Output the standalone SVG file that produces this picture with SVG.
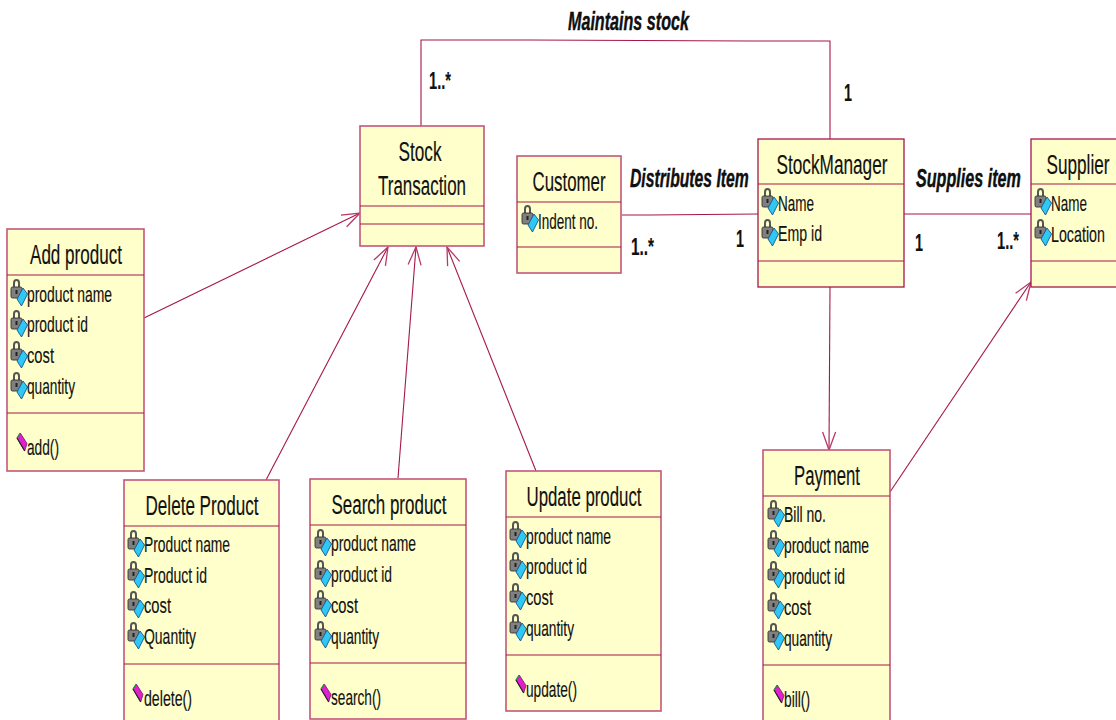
<svg xmlns="http://www.w3.org/2000/svg" width="1116" height="720" viewBox="0 0 1116 720">
<style>
.box{fill:#ffffcc;stroke:#a5174a;stroke-width:1.3}
.soft{stroke:#c4577c;stroke-width:1.6}
.sep{stroke:#a5174a;stroke-width:1.2;fill:none}
.c{stroke:#a5174a;stroke-width:1.1;fill:none}
.a{marker-end:url(#open)}
text{font-family:"Liberation Sans",Arial,sans-serif;fill:#111;stroke:#111;stroke-width:.15}
.t{font-size:27px;text-anchor:middle}
.m{font-size:22px}
.l{font-size:26px;font-style:italic;font-weight:bold;stroke:#000;stroke-width:.4}
.n{font-size:23px;font-weight:bold}
</style>
<defs>
<marker id="open" markerUnits="userSpaceOnUse" markerWidth="24" markerHeight="24" refX="21" refY="12" orient="auto"><path d="M3 5.500L21 12L3 18.500" fill="none" stroke="#b8386a" stroke-width="1.300"/></marker>
<g id="attr">
<path d="M3 9V4Q3 0 6.500 0Q10 0 10 4V9H8V4Q8 2 6.500 2Q5 2 5 4V9Z" fill="#555"/>
<rect x="1" y="8" width="11" height="11" rx="1.500" fill="#808080" stroke="#333" stroke-width=".9"/>
<rect x="5.500" y="11" width="2" height="4" fill="#222"/>
<path d="M13 9L17.500 15L11.500 27L7 20Z" fill="#2fc8f5" stroke="#14558a" stroke-width=".9"/>
</g>
<g id="op">
<path d="M3.300 0L10 10.500L7.700 18L0 5Z" fill="#e020d0" stroke="#5a1050" stroke-width=".7"/>
<path d="M0 5L7.700 18" stroke="#222" stroke-width="1.100"/>
<path d="M3.300 0L0 5" stroke="#1a9a3c" stroke-width="1.200"/>
</g>
</defs>

<g id="connectors">
<path class="c" d="M421 126V40H530L750 41H830V139"/>
<path class="c" d="M622 215L650 215L758 214"/>
<path class="c" d="M904 214H1031"/>
<path class="c a" d="M144 318L360 213"/>
<path class="c a" d="M266 480L388 247"/>
<path class="c a" d="M398 478L416 247"/>
<path class="c a" d="M536 471L447 247"/>
<path class="c a" d="M830 287L829 450"/>
<path class="c a" d="M890 492L1031 282"/>
</g>

<g id="assoc-labels">
<text class="l" transform="translate(568 30) scale(.62 1)">Maintains stock</text>
<text class="l" transform="translate(630 187) scale(.605 1)">Distributes Item</text>
<text class="l" transform="translate(916 187) scale(.621 1)">Supplies item</text>
<text class="n" x="429" y="89" textLength="22" lengthAdjust="spacingAndGlyphs">1..*</text>
<text class="n" x="844" y="101" textLength="8" lengthAdjust="spacingAndGlyphs">1</text>
<text class="n" x="631" y="255" textLength="23" lengthAdjust="spacingAndGlyphs">1..*</text>
<text class="n" x="736" y="247" textLength="8" lengthAdjust="spacingAndGlyphs">1</text>
<text class="n" x="915" y="251" textLength="8" lengthAdjust="spacingAndGlyphs">1</text>
<text class="n" x="997" y="249" textLength="22" lengthAdjust="spacingAndGlyphs">1..*</text>
</g>

<g id="stock-transaction">
<rect class="box soft" x="360" y="126" width="124" height="120"/>
<path class="sep soft" d="M360 206H484M360 224H484"/>
<text class="t" x="420" y="161" textLength="43" lengthAdjust="spacingAndGlyphs">Stock</text>
<text class="t" x="422" y="195" textLength="88" lengthAdjust="spacingAndGlyphs">Transaction</text>
</g>

<g id="customer">
<rect class="box soft" x="517" y="156" width="104" height="117"/>
<path class="sep soft" d="M517 202H621M517 247H621"/>
<text class="t" transform="translate(569 191) scale(.624 1)">Customer</text>
<use href="#attr" x="521" y="205"/>
<text class="m" x="538" y="229" textLength="60" lengthAdjust="spacingAndGlyphs">Indent no.</text>
</g>

<g id="stock-manager">
<rect class="box" x="758" y="139" width="146" height="148"/>
<path class="sep" d="M758 184H904M758 261H904"/>
<text class="t" transform="translate(832 174) scale(.638 1)">StockManager</text>
<use href="#attr" x="761" y="188"/>
<text class="m" x="778" y="211" textLength="36" lengthAdjust="spacingAndGlyphs">Name</text>
<use href="#attr" x="761" y="219"/>
<text class="m" x="778" y="241" textLength="44" lengthAdjust="spacingAndGlyphs">Emp id</text>
</g>

<g id="supplier">
<rect class="box" x="1031" y="139" width="100" height="148"/>
<path class="sep" d="M1031 184H1116M1031 261H1116"/>
<text class="t" transform="translate(1078 174) scale(.636 1)">Supplier</text>
<use href="#attr" x="1034" y="188"/>
<text class="m" transform="translate(1051 211) scale(.613 1)">Name</text>
<use href="#attr" x="1034" y="219"/>
<text class="m" transform="translate(1051 242) scale(.649 1)">Location</text>
</g>

<g id="add-product">
<rect class="box soft" x="7" y="229" width="137" height="242"/>
<path class="sep" d="M7 275H144M7 413H144"/>
<text class="t" x="76" y="264" textLength="92" lengthAdjust="spacingAndGlyphs">Add product</text>
<use href="#attr" x="10" y="279"/>
<text class="m" x="27" y="302" textLength="85" lengthAdjust="spacingAndGlyphs">product name</text>
<use href="#attr" x="10" y="310"/>
<text class="m" x="27" y="332" textLength="61" lengthAdjust="spacingAndGlyphs">product id</text>
<use href="#attr" x="10" y="341"/>
<text class="m" x="27" y="363" textLength="27" lengthAdjust="spacingAndGlyphs">cost</text>
<use href="#attr" x="10" y="372"/>
<text class="m" x="27" y="394" textLength="48" lengthAdjust="spacingAndGlyphs">quantity</text>
<use href="#op" x="17" y="433"/>
<text class="m" x="27" y="455" textLength="32" lengthAdjust="spacingAndGlyphs">add()</text>
</g>

<g id="delete-product">
<rect class="box soft" x="124" y="480" width="155" height="250"/>
<path class="sep" d="M124 526H279M124 664H279"/>
<text class="t" x="202" y="515" textLength="113" lengthAdjust="spacingAndGlyphs">Delete Product</text>
<use href="#attr" x="127" y="530"/>
<text class="m" x="144" y="552" textLength="86" lengthAdjust="spacingAndGlyphs">Product name</text>
<use href="#attr" x="127" y="561"/>
<text class="m" x="144" y="583" textLength="63" lengthAdjust="spacingAndGlyphs">Product id</text>
<use href="#attr" x="127" y="591"/>
<text class="m" x="144" y="613" textLength="27" lengthAdjust="spacingAndGlyphs">cost</text>
<use href="#attr" x="127" y="622"/>
<text class="m" x="144" y="644" textLength="52" lengthAdjust="spacingAndGlyphs">Quantity</text>
<use href="#op" x="133" y="684"/>
<text class="m" x="144" y="706" textLength="48" lengthAdjust="spacingAndGlyphs">delete()</text>
</g>

<g id="search-product">
<rect class="box soft" x="310" y="479" width="156" height="240"/>
<path class="sep" d="M310 525H466M310 663H466"/>
<text class="t" x="389" y="514" textLength="115" lengthAdjust="spacingAndGlyphs">Search product</text>
<use href="#attr" x="314" y="529"/>
<text class="m" x="331" y="551" textLength="85" lengthAdjust="spacingAndGlyphs">product name</text>
<use href="#attr" x="314" y="560"/>
<text class="m" x="331" y="582" textLength="61" lengthAdjust="spacingAndGlyphs">product id</text>
<use href="#attr" x="314" y="590"/>
<text class="m" x="331" y="613" textLength="27" lengthAdjust="spacingAndGlyphs">cost</text>
<use href="#attr" x="314" y="621"/>
<text class="m" x="331" y="644" textLength="48" lengthAdjust="spacingAndGlyphs">quantity</text>
<use href="#op" x="321" y="684"/>
<text class="m" x="331" y="705" textLength="50" lengthAdjust="spacingAndGlyphs">search()</text>
</g>

<g id="update-product">
<rect class="box soft" x="506" y="471" width="155" height="240"/>
<path class="sep" d="M506 517H661M506 655H661"/>
<text class="t" x="584" y="506" textLength="115" lengthAdjust="spacingAndGlyphs">Update product</text>
<use href="#attr" x="509" y="521"/>
<text class="m" x="526" y="544" textLength="85" lengthAdjust="spacingAndGlyphs">product name</text>
<use href="#attr" x="509" y="552"/>
<text class="m" x="526" y="574" textLength="61" lengthAdjust="spacingAndGlyphs">product id</text>
<use href="#attr" x="509" y="583"/>
<text class="m" x="526" y="605" textLength="27" lengthAdjust="spacingAndGlyphs">cost</text>
<use href="#attr" x="509" y="614"/>
<text class="m" x="526" y="636" textLength="48" lengthAdjust="spacingAndGlyphs">quantity</text>
<use href="#op" x="516" y="675"/>
<text class="m" x="526" y="697" textLength="51" lengthAdjust="spacingAndGlyphs">update()</text>
</g>

<g id="payment">
<rect class="box soft" x="763" y="450" width="127" height="280"/>
<path class="sep" d="M763 496H890M763 665H890"/>
<text class="t" x="827" y="485" textLength="66" lengthAdjust="spacingAndGlyphs">Payment</text>
<use href="#attr" x="767" y="500"/>
<text class="m" x="784" y="522" textLength="42" lengthAdjust="spacingAndGlyphs">Bill no.</text>
<use href="#attr" x="767" y="530"/>
<text class="m" x="784" y="553" textLength="85" lengthAdjust="spacingAndGlyphs">product name</text>
<use href="#attr" x="767" y="561"/>
<text class="m" x="784" y="584" textLength="61" lengthAdjust="spacingAndGlyphs">product id</text>
<use href="#attr" x="767" y="592"/>
<text class="m" x="784" y="615" textLength="27" lengthAdjust="spacingAndGlyphs">cost</text>
<use href="#attr" x="767" y="623"/>
<text class="m" x="784" y="646" textLength="48" lengthAdjust="spacingAndGlyphs">quantity</text>
<use href="#op" x="774" y="685"/>
<text class="m" x="784" y="707" textLength="26" lengthAdjust="spacingAndGlyphs">bill()</text>
</g>
</svg>
